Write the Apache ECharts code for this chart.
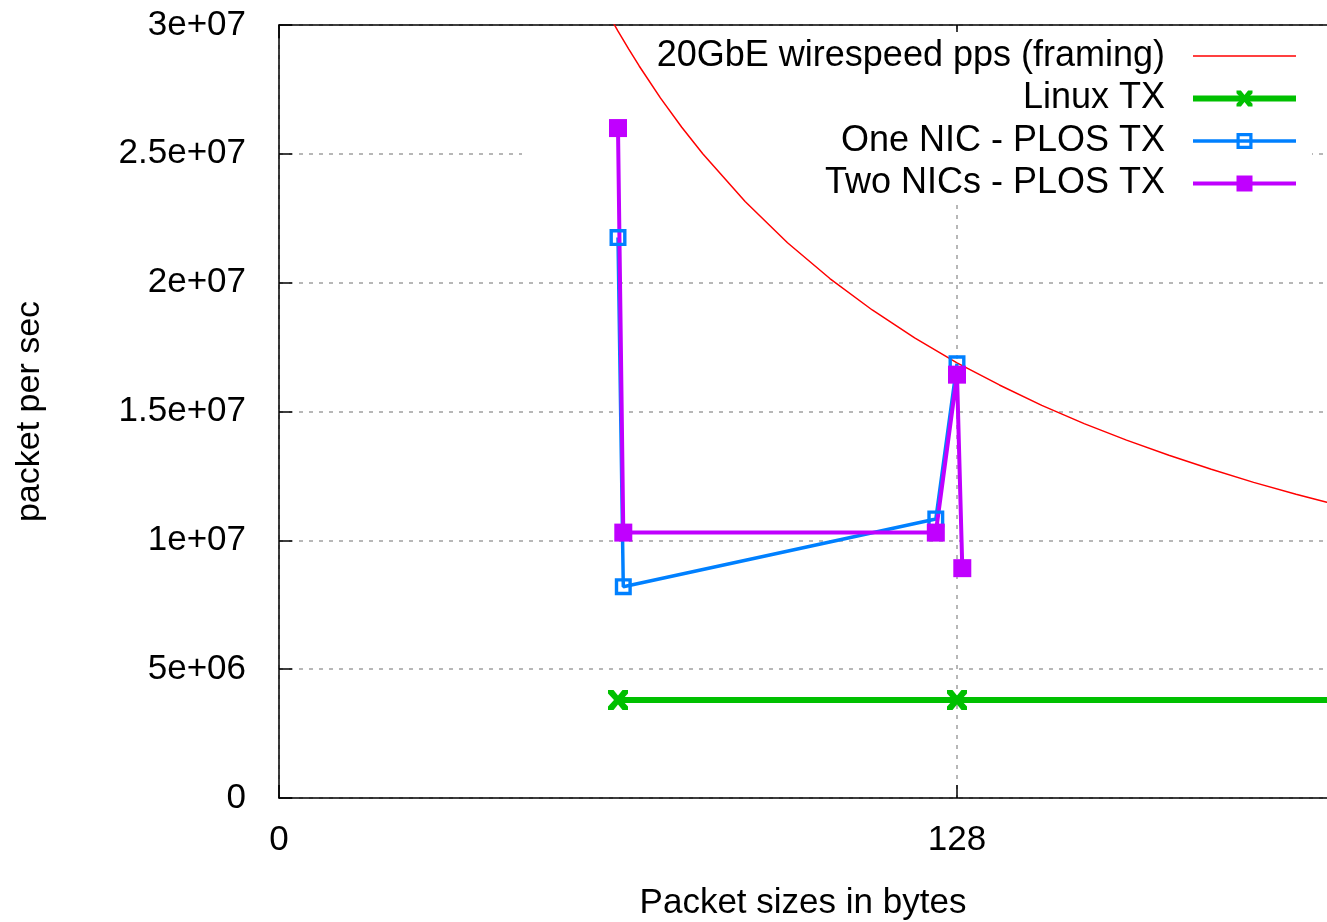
<!DOCTYPE html>
<html><head><meta charset="utf-8">
<script src="https://cdn.jsdelivr.net/npm/echarts@6/dist/echarts.min.js"></script>
<style>html,body{margin:0;padding:0;background:#fff;overflow:hidden}#c{width:1635px;height:922px}</style>
</head><body><div id="c"></div>
<script>
const seriesNames = ['20GbE wirespeed pps (framing)', 'Linux TX', 'One NIC - PLOS TX', 'Two NICs - PLOS TX'];

const wireX = [62, 64, 66, 68, 72, 76, 80, 88, 96, 104, 112, 120, 128, 136, 144, 152, 160, 168, 176, 184, 192, 200, 208, 224, 240, 256];
const wireY = [30.49e6, 29.76e6, 29.07e6, 28.41e6, 27.17e6, 26.04e6, 25.0e6, 23.15e6, 21.55e6, 20.16e6, 18.94e6, 17.86e6, 16.89e6, 16.03e6, 15.24e6, 14.53e6, 13.89e6, 13.30e6, 12.76e6, 12.25e6, 11.79e6, 11.36e6, 10.96e6, 10.25e6, 9.62e6, 9.06e6];

const linuxX = [64, 128, 256];
const linuxY = [3.8e6, 3.8e6, 3.8e6];

const oneNicX = [64, 65, 124, 128];
const oneNicY = [21.75e6, 8.2e6, 10.83e6, 16.85e6];

const twoNicX = [64, 65, 124, 128, 129];
const twoNicY = [26.0e6, 10.3e6, 10.3e6, 16.43e6, 8.92e6];

const xTicks = [0, 128, 256];
const xTickLabels = ['0', '128', '256'];
const yTicks = [0, 5e6, 1e7, 1.5e7, 2e7, 2.5e7, 3e7];
const yTickLabels = ['0', '5e+06', '1e+07', '1.5e+07', '2e+07', '2.5e+07', '3e+07'];

const zip = (xs, ys) => xs.map((x, i) => [x, ys[i]]);
const FONT = 'Liberation Sans';
const xSymbol = 'path://M0,0 L5.5,0 L10,5.5 L14.5,0 L20,0 L20,3.5 L14,10 L20,16.5 L20,20 L14.5,20 L10,14.5 L5.5,20 L0,20 L0,16.5 L6,10 L0,3.5 Z';
const openSquare = 'path://M0,0 L16,0 L16,16 L0,16 Z M3.2,3.2 L3.2,12.8 L12.8,12.8 L12.8,3.2 Z';
const gridStyle = { color: '#a0a0a0', width: 1.5, type: [4, 6] };
const colors = ['#ff0000', '#00c000', '#0080ff', '#c000ff'];
const widths = [1.5, 6, 3.5, 4];

const chart = echarts.init(document.getElementById('c'), null, { renderer: 'canvas' });
chart.setOption({
  animation: false,
  backgroundColor: '#fff',
  textStyle: { fontFamily: FONT },
  grid: { left: 279, top: 25, bottom: 124, right: 0, containLabel: false, outerBoundsMode: 'none' },
  graphic: [{
    type: 'rect', z: 1, silent: true,
    shape: { x: 522, y: 32, width: 790, height: 173 },
    style: { fill: '#fff' }
  }],
  legend: {
    orient: 'vertical', right: 336, top: 38, align: 'right', padding: 0,
    itemWidth: 103, itemHeight: 20, itemGap: 6.5,
    textStyle: { fontSize: 36, fontFamily: FONT, color: '#000', lineHeight: 36, padding: [0, 23, 0, 0] },
    data: seriesNames.map((n, i) => i === 0
      ? { name: n, itemStyle: { opacity: 0 }, lineStyle: { width: widths[i], color: colors[i] } }
      : { name: n, lineStyle: { width: widths[i], color: colors[i] } })
  },
  xAxis: [{
    type: 'value', min: 0, max: 256, interval: 128,
    name: 'Packet sizes in bytes', nameLocation: 'middle', nameGap: 88,
    nameTextStyle: { fontSize: 35, fontFamily: FONT, color: '#000', padding: [0, 308, 0, 0] },
    axisLine: { show: true, onZero: false, lineStyle: { color: '#000', width: 1.5 } },
    axisTick: { show: true, inside: true, length: 13, lineStyle: { color: '#000', width: 1.5 } },
    axisLabel: { fontSize: 35, fontFamily: FONT, color: '#000', margin: 25,
      formatter: v => { const i = xTicks.indexOf(v); return i >= 0 ? xTickLabels[i] : ''; } },
    splitLine: { show: true, lineStyle: gridStyle }
  }, {
    type: 'value', position: 'top', min: 0, max: 256, interval: 128,
    axisLine: { show: true, onZero: false, lineStyle: { color: '#000', width: 1.5 } },
    axisTick: { show: true, inside: true, length: 13, lineStyle: { color: '#000', width: 1.5 } },
    axisLabel: { show: false }, splitLine: { show: false }
  }],
  yAxis: {
    type: 'value', min: 0, max: 3e7, interval: 5e6,
    name: 'packet per sec', nameLocation: 'middle', nameGap: 232, nameRotate: 90,
    nameTextStyle: { fontSize: 34, fontFamily: FONT, color: '#000' },
    axisLine: { show: true, onZero: false, lineStyle: { color: '#000', width: 1.5 } },
    axisTick: { show: true, inside: true, length: 13, lineStyle: { color: '#000', width: 1.5 } },
    axisLabel: { fontSize: 35, fontFamily: FONT, color: '#000', margin: 33,
      formatter: v => { const i = yTicks.indexOf(v); return i >= 0 ? yTickLabels[i] : ''; } },
    splitLine: { show: true, lineStyle: gridStyle }
  },
  series: [
    { name: seriesNames[0], type: 'line', data: zip(wireX, wireY), symbol: 'none',
      lineStyle: { color: colors[0], width: widths[0] }, itemStyle: { color: colors[0] } },
    { name: seriesNames[1], type: 'line', data: zip(linuxX, linuxY), symbol: xSymbol, symbolSize: 20,
      lineStyle: { color: colors[1], width: widths[1] }, itemStyle: { color: colors[1] } },
    { name: seriesNames[2], type: 'line', data: zip(oneNicX, oneNicY), symbol: openSquare, symbolSize: 17,
      lineStyle: { color: colors[2], width: widths[2] }, itemStyle: { color: colors[2] } },
    { name: seriesNames[3], type: 'line', data: zip(twoNicX, twoNicY), symbol: 'rect', symbolSize: 18,
      lineStyle: { color: colors[3], width: widths[3] }, itemStyle: { color: colors[3] } }
  ]
});
</script></body></html>
